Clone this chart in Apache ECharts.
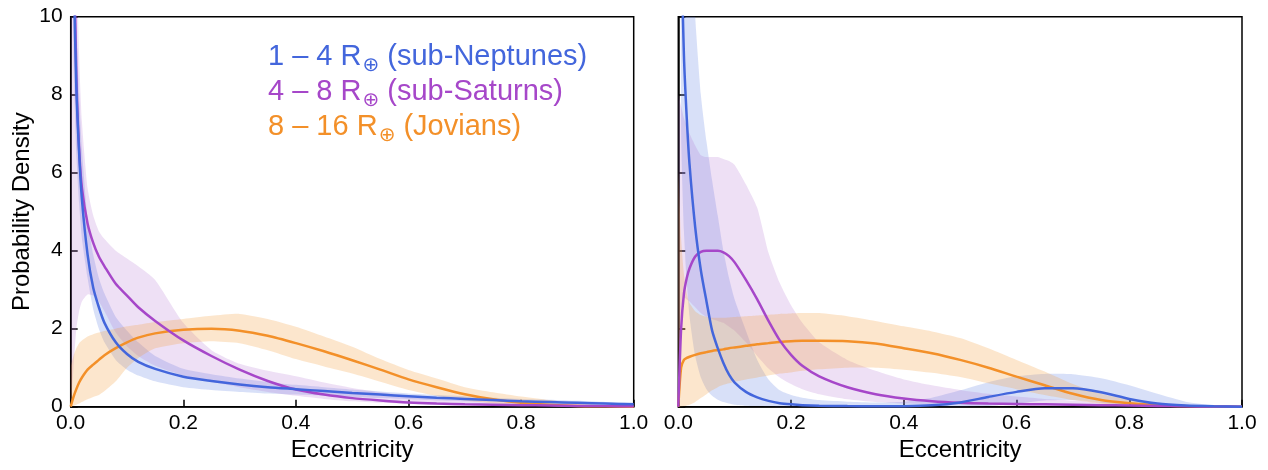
<!DOCTYPE html>
<html>
<head>
<meta charset="utf-8">
<script src="https://cdn.jsdelivr.net/npm/echarts@6/dist/echarts.min.js"></script>
<style>
html, body { margin: 0; padding: 0; background: #fff; }
#chart { width: 1268px; height: 470px; }
</style>
</head>
<body>
<div id="chart"></div>
<script>
// eccentricity grids (left / right panel)
var eL = [0, 0.005, 0.01, 0.015, 0.02, 0.03, 0.04, 0.05, 0.06, 0.08, 0.1, 0.12, 0.15, 0.2, 0.25, 0.3, 0.35, 0.4, 0.45, 0.5, 0.55, 0.6, 0.65, 0.7, 0.75, 0.8, 0.85, 0.9, 0.95, 1.0];
var eR = [0, 0.005, 0.01, 0.015, 0.02, 0.03, 0.04, 0.05, 0.06, 0.07, 0.08, 0.09, 0.1, 0.12, 0.14, 0.16, 0.18, 0.2, 0.22, 0.25, 0.3, 0.35, 0.4, 0.45, 0.5, 0.55, 0.6, 0.65, 0.7, 0.75, 0.8, 0.85, 0.9, 0.95, 1.0];

// left panel
var nepL    = [40, 12, 8.2, 6.5, 5.3, 3.9, 3.05, 2.55, 2.15, 1.65, 1.35, 1.15, 0.97, 0.77, 0.66, 0.57, 0.5, 0.45, 0.4, 0.35, 0.31, 0.27, 0.23, 0.2, 0.17, 0.14, 0.12, 0.1, 0.08, 0.06];
var nepLhi  = [40, 15, 10, 8, 6.6, 4.8, 3.9, 3.3, 2.9, 2.3, 1.95, 1.65, 1.3, 0.97, 0.83, 0.72, 0.63, 0.56, 0.5, 0.44, 0.39, 0.34, 0.3, 0.27, 0.23, 0.2, 0.18, 0.15, 0.12, 0.1];
var nepLlo  = [30, 9, 6.5, 5.2, 4.3, 3.3, 2.5, 2.0, 1.65, 1.2, 0.95, 0.8, 0.65, 0.5, 0.43, 0.38, 0.34, 0.31, 0.28, 0.25, 0.22, 0.19, 0.16, 0.14, 0.12, 0.1, 0.08, 0.06, 0.05, 0.04];
var satL    = [40, 13, 8.5, 6.6, 5.6, 4.7, 4.2, 3.85, 3.6, 3.15, 2.85, 2.55, 2.2, 1.7, 1.3, 0.95, 0.66, 0.44, 0.31, 0.22, 0.16, 0.11, 0.08, 0.06, 0.05, 0.04, 0.03, 0.02, 0.015, 0.01];
var satLhi  = [40, 20, 12, 9, 7.3, 5.6, 4.9, 4.5, 4.3, 4.0, 3.8, 3.6, 3.25, 2.15, 1.45, 1.1, 0.92, 0.78, 0.62, 0.48, 0.37, 0.28, 0.21, 0.16, 0.12, 0.09, 0.07, 0.05, 0.04, 0.03];
var satLlo  = [0, 1.0, 2.0, 2.45, 2.7, 2.88, 2.85, 2.7, 2.45, 1.9, 1.55, 1.3, 1.05, 0.8, 0.64, 0.5, 0.38, 0.28, 0.2, 0.14, 0.1, 0.07, 0.05, 0.035, 0.025, 0.018, 0.012, 0.008, 0.005, 0.003];
var jovL    = [0, 0.25, 0.45, 0.62, 0.75, 0.95, 1.08, 1.2, 1.32, 1.5, 1.65, 1.77, 1.88, 1.97, 2.0, 1.95, 1.82, 1.63, 1.42, 1.19, 0.95, 0.7, 0.5, 0.32, 0.19, 0.1, 0.05, 0.02, 0.01, 0];
var jovLhi  = [1.0, 1.3, 1.5, 1.63, 1.7, 1.8, 1.86, 1.9, 1.94, 2.0, 2.06, 2.1, 2.17, 2.25, 2.33, 2.38, 2.25, 2.05, 1.8, 1.54, 1.22, 0.94, 0.72, 0.5, 0.37, 0.26, 0.17, 0.09, 0.04, 0.01];
var jovLlo  = [0, 0.02, 0.05, 0.08, 0.12, 0.19, 0.25, 0.3, 0.4, 0.65, 1.0, 1.25, 1.5, 1.63, 1.68, 1.63, 1.45, 1.22, 1.03, 0.85, 0.64, 0.43, 0.28, 0.16, 0.09, 0.04, 0.02, 0.01, 0, 0];

// right panel
var nepR    = [40, 12.5, 9.0, 7.4, 6.2, 4.6, 3.5, 2.7, 1.95, 1.5, 1.12, 0.82, 0.62, 0.38, 0.24, 0.15, 0.09, 0.06, 0.04, 0.025, 0.015, 0.01, 0.012, 0.035, 0.11, 0.25, 0.38, 0.47, 0.47, 0.37, 0.2, 0.08, 0.03, 0.01, 0];
var nepRhi  = [40, 25, 18, 15, 13, 10, 8, 6.8, 5.8, 4.9, 4.0, 3.3, 2.75, 1.95, 1.2, 0.7, 0.42, 0.3, 0.23, 0.17, 0.13, 0.11, 0.13, 0.23, 0.42, 0.63, 0.78, 0.84, 0.83, 0.73, 0.55, 0.33, 0.13, 0.04, 0];
var nepRlo  = [40, 7, 4.5, 3.2, 2.3, 1.3, 0.75, 0.45, 0.28, 0.18, 0.12, 0.08, 0.05, 0.025, 0.015, 0.01, 0.005, 0, 0, 0, 0, 0, 0, 0, 0, 0.02, 0.08, 0.16, 0.17, 0.11, 0.05, 0.015, 0, 0, 0];
var satR    = [0, 2.0, 2.9, 3.3, 3.55, 3.85, 3.97, 4.0, 4.0, 4.0, 3.96, 3.86, 3.7, 3.25, 2.75, 2.2, 1.7, 1.33, 1.05, 0.78, 0.5, 0.32, 0.21, 0.14, 0.1, 0.08, 0.07, 0.06, 0.05, 0.04, 0.03, 0.02, 0.01, 0.005, 0];
var satRhi  = [8, 7.7, 7.4, 7.2, 7.0, 6.7, 6.45, 6.4, 6.4, 6.4, 6.35, 6.3, 6.2, 5.7, 5.1, 3.95, 3.17, 2.6, 2.15, 1.65, 1.2, 0.92, 0.7, 0.55, 0.43, 0.33, 0.26, 0.2, 0.16, 0.12, 0.1, 0.07, 0.05, 0.03, 0.02];
var satRlo  = [0, 2.5, 2.8, 2.75, 2.7, 2.55, 2.4, 2.3, 2.25, 2.2, 2.15, 2.05, 1.95, 1.65, 1.3, 0.98, 0.75, 0.58, 0.45, 0.32, 0.19, 0.12, 0.08, 0.06, 0.04, 0.03, 0.02, 0.02, 0.01, 0.01, 0.01, 0.005, 0, 0, 0];
var jovR    = [0, 1.0, 1.2, 1.25, 1.28, 1.33, 1.37, 1.4, 1.43, 1.45, 1.47, 1.5, 1.52, 1.56, 1.6, 1.63, 1.66, 1.68, 1.69, 1.69, 1.68, 1.62, 1.5, 1.37, 1.2, 1.0, 0.77, 0.55, 0.33, 0.17, 0.09, 0.04, 0.015, 0.005, 0];
var jovRhi  = [6, 4.3, 3.4, 2.9, 2.65, 2.45, 2.35, 2.3, 2.28, 2.28, 2.28, 2.29, 2.3, 2.32, 2.34, 2.36, 2.38, 2.39, 2.4, 2.4, 2.32, 2.2, 2.06, 1.93, 1.76, 1.5, 1.2, 0.9, 0.58, 0.33, 0.18, 0.09, 0.03, 0.01, 0];
var jovRlo  = [0, 0, 0.01, 0.03, 0.05, 0.12, 0.22, 0.32, 0.42, 0.5, 0.56, 0.6, 0.64, 0.7, 0.75, 0.8, 0.85, 0.88, 0.92, 0.96, 1.0, 1.0, 0.95, 0.87, 0.76, 0.6, 0.45, 0.3, 0.17, 0.08, 0.03, 0.01, 0, 0, 0];

var legendLabels = [
    ['1 – 4 R', '(sub-Neptunes)'],
    ['4 – 8 R', '(sub-Saturns)'],
    ['8 – 16 R', '(Jovians)']
];

var cBlue = '#4366dc', cPurple = '#a647c9', cOrange = '#f39029';
var fBlue = 'rgba(90,125,225,0.24)', fPurple = 'rgba(170,100,205,0.20)', fOrange = 'rgba(245,160,60,0.26)';
var FONT = 'Liberation Sans, Arial, sans-serif';

function pairs(xs, ys) {
    return xs.map(function (x, i) { return [x, ys[i]]; });
}

// shaded band: polygon from upper edge then lower edge reversed, clipped to the grid
function band(xs, lo, hi, color, idx) {
    return {
        type: 'custom', xAxisIndex: idx, yAxisIndex: idx, silent: true, z: 1,
        data: [[0, 0]],
        encode: { x: -1, y: -1 },
        renderItem: function (params, api) {
            var pts = [], i;
            for (i = 0; i < xs.length; i++) pts.push(api.coord([xs[i], hi[i]]));
            for (i = xs.length - 1; i >= 0; i--) pts.push(api.coord([xs[i], lo[i]]));
            var cs = params.coordSys;
            return {
                type: 'group',
                clipPath: { type: 'rect', shape: { x: cs.x, y: cs.y, width: cs.width, height: cs.height } },
                children: [{
                    type: 'polygon',
                    shape: { points: pts, smooth: 0.2 },
                    style: { fill: color, stroke: null }
                }]
            };
        }
    };
}

function curve(xs, ys, color, idx) {
    return {
        type: 'line', xAxisIndex: idx, yAxisIndex: idx, data: pairs(xs, ys),
        symbol: 'none', smooth: 0.25, silent: true, z: 3, clip: true,
        lineStyle: { color: color, width: 2.5 }
    };
}

function xAx(idx) {
    return {
        type: 'value', gridIndex: idx, min: 0, max: 1, interval: 0.2,
        name: 'Eccentricity', nameLocation: 'middle', nameGap: 30,
        nameTextStyle: { color: '#000', fontSize: 24, fontFamily: FONT },
        axisLine: { show: true, lineStyle: { color: '#000', width: 1.5 } },
        axisTick: { show: true, inside: true, length: 7, lineStyle: { color: '#000', width: 1.5 } },
        axisLabel: { color: '#000', fontSize: 21, fontFamily: FONT, margin: 6,
            formatter: function (v) { return v.toFixed(1); } },
        splitLine: { show: false }
    };
}

function yAx(idx, labels) {
    return {
        type: 'value', gridIndex: idx, min: 0, max: 10, interval: 2,
        name: labels ? 'Probability Density' : '', nameLocation: 'middle', nameGap: 36,
        nameTextStyle: { color: '#000', fontSize: 24, fontFamily: FONT },
        axisLine: { show: true, lineStyle: { color: '#000', width: 1.5 } },
        axisTick: { show: true, inside: true, length: 7, lineStyle: { color: '#000', width: 1.5 } },
        axisLabel: { show: labels, color: '#000', fontSize: 21, fontFamily: FONT, margin: 8 },
        splitLine: { show: false }
    };
}

var series = [
    band(eL, nepLlo, nepLhi, fBlue, 0),
    band(eL, satLlo, satLhi, fPurple, 0),
    band(eL, jovLlo, jovLhi, fOrange, 0),
    band(eR, nepRlo, nepRhi, fBlue, 1),
    band(eR, satRlo, satRhi, fPurple, 1),
    band(eR, jovRlo, jovRhi, fOrange, 1),
    curve(eL, jovL, cOrange, 0), curve(eL, satL, cPurple, 0), curve(eL, nepL, cBlue, 0),
    curve(eR, jovR, cOrange, 1), curve(eR, satR, cPurple, 1), curve(eR, nepR, cBlue, 1)
];

// legend: main text, subscript ⊕, then the group name, placed by measured widths
var ctx = document.createElement('canvas').getContext('2d');
var mainFont = '29px Liberation Sans', subFont = '20px DejaVu Sans';
var legColors = [cBlue, cPurple, cOrange];
var graphic = [];
legendLabels.forEach(function (l, i) {
    var y = 57 + i * 35, x = 268;
    ctx.font = mainFont;
    var w1 = ctx.measureText(l[0]).width;
    var sp = ctx.measureText(' ').width;
    ctx.font = subFont;
    var w2 = ctx.measureText('⊕').width;
    graphic.push({ type: 'text', x: x, y: y, z: 10, silent: true,
        style: { text: l[0], font: mainFont, fill: legColors[i], verticalAlign: 'middle', align: 'left' } });
    graphic.push({ type: 'text', x: x + w1 + 1, y: y + 9, z: 10, silent: true,
        style: { text: '⊕', font: subFont, fill: legColors[i], verticalAlign: 'middle', align: 'left' } });
    graphic.push({ type: 'text', x: x + w1 + 1 + w2 + sp, y: y, z: 10, silent: true,
        style: { text: l[1], font: mainFont, fill: legColors[i], verticalAlign: 'middle', align: 'left' } });
});

var chart = echarts.init(document.getElementById('chart'));
chart.setOption({
    animation: false,
    backgroundColor: '#fff',
    grid: [
        { left: 70.7, right: 634.3, top: 16.7, bottom: 63.3, show: true, borderColor: '#000', borderWidth: 1.5, backgroundColor: 'transparent' },
        { left: 678.3, right: 26, top: 16.7, bottom: 63.3, show: true, borderColor: '#000', borderWidth: 1.5, backgroundColor: 'transparent' }
    ],
    xAxis: [xAx(0), xAx(1)],
    yAxis: [yAx(0, true), yAx(1, false)],
    series: series,
    graphic: graphic
});
</script>
</body>
</html>
